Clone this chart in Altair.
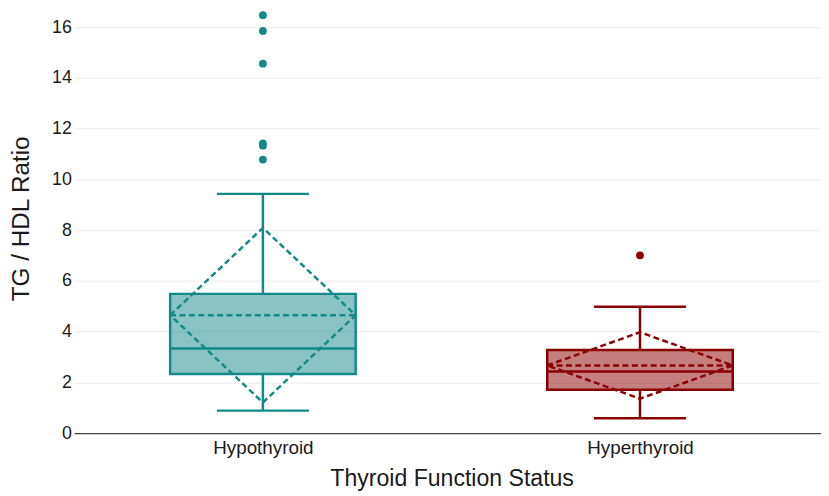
import altair as alt
import pandas as pd

# ---- data ----
categories = ["Hypothyroid", "Hyperthyroid"]
colors = ["#138a87", "#8b0000"]
q1 = [2.33, 1.71]
medians = [3.34, 2.43]
q3 = [5.49, 3.28]
lower_whisker = [0.89, 0.59]
upper_whisker = [9.43, 4.98]
means = [4.65, 2.67]
sds = [3.44, 1.31]
outliers = {
    "Hypothyroid": [16.47, 15.85, 14.56, 11.42, 11.33, 10.78],
    "Hyperthyroid": [7.01],
}
y_ticks = [0, 2, 4, 6, 8, 10, 12, 14, 16]

BOX_HALF = 0.246
CAP_HALF = 0.122
FONT = "Liberation Sans"
LW = 2.5
DASH = [6, 3.5]

stats_rows, diamond_rows, outlier_rows = [], [], []
for i, c in enumerate(categories):
    stats_rows.append(dict(cat=c, idx=i, left=i - BOX_HALF, right=i + BOX_HALF,
                           capl=i - CAP_HALF, capr=i + CAP_HALF,
                           q1=q1[i], med=medians[i], q3=q3[i],
                           lo=lower_whisker[i], hi=upper_whisker[i], mean=means[i]))
    m, s = means[i], sds[i]
    pts = [(i - BOX_HALF, m), (i, m + s), (i + BOX_HALF, m), (i, m - s), (i - BOX_HALF, m)]
    for k, (dx, dy) in enumerate(pts):
        diamond_rows.append(dict(cat=c, step=k, dx=dx, dy=dy))
    for v in outliers[c]:
        outlier_rows.append(dict(cat=c, idx=i, val=v))

stats = pd.DataFrame(stats_rows)
diamond = pd.DataFrame(diamond_rows)
outl = pd.DataFrame(outlier_rows)

cscale = alt.Scale(domain=categories, range=colors)
xscale = alt.Scale(domain=[-0.5, 1.48], nice=False, zero=False)
yscale = alt.Scale(domain=[0, 16.66], nice=False, zero=True)

label_expr = "[" + ",".join("'" + c + "'" for c in categories) + "][datum.value]"
xaxis = alt.Axis(values=list(range(len(categories))), labelExpr=label_expr,
                 title="Thyroid Function Status", grid=False, ticks=False, tickSize=0,
                 domainColor="#444444", domainWidth=1.3,
                 labelFont=FONT, labelFontSize=19, labelColor="#1a1a1a", labelPadding=5,
                 titleFont=FONT, titleFontSize=23.3, titleFontWeight="normal", titleColor="#1a1a1a",
                 titleX=381, titleY=53, titleBaseline="alphabetic", titleAlign="center")
yaxis = alt.Axis(values=y_ticks, title="TG / HDL Ratio", grid=True, gridColor="#ebebeb",
                 gridWidth=1, domain=False, ticks=False, tickSize=0,
                 labelFont=FONT, labelFontSize=18, labelColor="#1a1a1a", labelPadding=3,
                 titleFont=FONT, titleFontSize=24.5, titleFontWeight="normal", titleColor="#1a1a1a",
                 titleAngle=270, titleX=-53, titleY=210, titleAlign="center", titleBaseline="middle")


def X(field):
    return alt.X(field, type="quantitative", scale=xscale, axis=xaxis)


def Y(field):
    return alt.Y(field, type="quantitative", scale=yscale, axis=yaxis)


col = alt.Color("cat:N", scale=cscale, legend=None)

base = alt.Chart(stats)

box = base.mark_rect(fillOpacity=0.5, strokeWidth=LW).encode(
    x=X("left"), x2="right", y=Y("q1"), y2="q3",
    fill=alt.Fill("cat:N", scale=cscale, legend=None),
    stroke=alt.Stroke("cat:N", scale=cscale, legend=None))

median = base.mark_rule(strokeWidth=LW).encode(x=X("left"), x2="right", y=Y("med"), color=col)
mean_line = base.mark_rule(strokeWidth=LW, strokeDash=DASH).encode(
    x=X("left"), x2="right", y=Y("mean"), color=col)
whisk_hi = base.mark_rule(strokeWidth=LW).encode(x=X("idx"), y=Y("q3"), y2="hi", color=col)
whisk_lo = base.mark_rule(strokeWidth=LW).encode(x=X("idx"), y=Y("lo"), y2="q1", color=col)
cap_hi = base.mark_rule(strokeWidth=LW).encode(x=X("capl"), x2="capr", y=Y("hi"), color=col)
cap_lo = base.mark_rule(strokeWidth=LW).encode(x=X("capl"), x2="capr", y=Y("lo"), color=col)

diam = alt.Chart(diamond).mark_line(strokeWidth=LW, strokeDash=DASH).encode(
    x=X("dx"), y=Y("dy"), detail="cat:N", order="step:Q", color=col)

pts = alt.Chart(outl).mark_circle(size=62, opacity=1).encode(x=X("idx"), y=Y("val"), color=col)

chart = alt.layer(box, median, whisk_hi, whisk_lo, cap_hi, cap_lo, mean_line, diam, pts).properties(
    width=754, height=427,
    autosize=alt.AutoSizeParams(type="none"),
    padding={"left": 67, "top": 0, "right": 0, "bottom": 61},
    background="white",
).configure_view(stroke=None)

chart.save("out.html", embed_options={"renderer": "svg", "actions": False})
